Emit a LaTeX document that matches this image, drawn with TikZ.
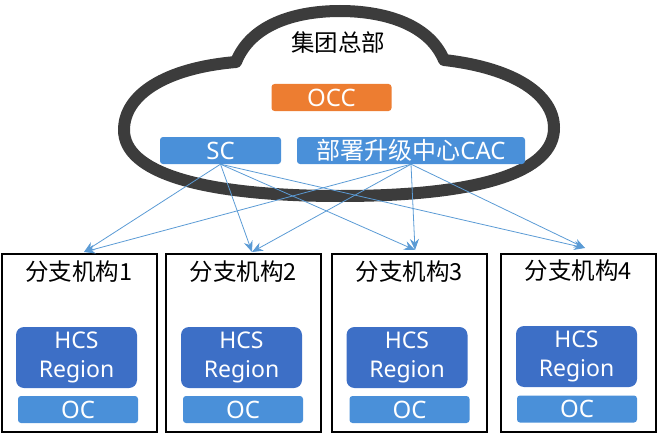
\documentclass[tikz,border=0pt]{standalone}
\usepackage{fontspec}
\setmainfont{Noto Sans}
\newfontfamily\cjk{Noto Sans CJK SC}
\usetikzlibrary{arrows.meta}
\definecolor{cloudgray}{HTML}{3C3C3C}
\definecolor{occorange}{HTML}{ED7D31}
\definecolor{lightblue}{HTML}{4A90D9}
\definecolor{darkblue}{HTML}{3D6FC6}
\definecolor{arrowblue}{HTML}{5B9BD5}
\begin{document}
\begin{tikzpicture}[x=1pt,y=-1pt,
  branch/.style={draw=black,line width=2pt,minimum width=155pt,minimum height=178pt,inner sep=0pt},
  title/.style={font=\cjk\fontsize{23.5}{25}\selectfont,inner sep=0pt},
  hcs/.style={fill=darkblue,rounded corners=8pt,minimum width=121pt,minimum height=61pt,inner sep=0pt,text=white,align=center,font=\fontsize{23}{29}\selectfont},
  ocbox/.style={fill=lightblue,rounded corners=3pt,minimum width=120pt,minimum height=27pt,inner sep=0pt,text=white,font=\fontsize{24}{24}\selectfont},
  topbox/.style={rounded corners=3pt,minimum height=27pt,inner sep=0pt,text=white,font=\fontsize{24}{24}\selectfont},
  link/.style={draw=arrowblue,line width=0.8pt,-{Stealth[length=11pt,width=9pt]}}]
\useasboundingbox (0,0) rectangle (659,436);
% cloud
\draw[cloudgray,line width=12pt,line join=round]
  (236,62) .. controls (252,22) and (300,11) .. (340,11)
  .. controls (380,11) and (428,22) .. (444,60)
  .. controls (515,68) and (554,95) .. (554,128)
  .. controls (554,172) and (480,196) .. (340,196)
  .. controls (200,196) and (124,172) .. (124,130)
  .. controls (124,95) and (165,68) .. (236,62) -- cycle;
\node[title,font=\cjk\fontsize{23.5}{25}\selectfont] (hq) at (338,43) {集团总部};
\node[topbox,fill=occorange,minimum width=120pt] (occ) at (331.5,97.5) {OCC};
\node[topbox,fill=lightblue,minimum width=121pt] (sc) at (220.5,150.5) {SC};
\node[topbox,fill=lightblue,minimum width=228pt] (cac) at (411,150.5) {{\cjk 部署升级中心}CAC};
% branches
\node[branch] (b1) at (79.5,343) {};
\node[branch] (b2) at (243.5,343) {};
\node[branch] (b3) at (409.5,343) {};
\node[branch] (b4) at (578.5,342.5) {};
\node[title] (t1) at (79,272) {分支机构1};
\node[title] (t2) at (243.5,272) {分支机构2};
\node[title] (t3) at (409.5,272) {分支机构3};
\node[title] (t4) at (578.5,271) {分支机构4};
\node[hcs] (h1) at (76.5,357.5) {HCS\\Region};
\node[hcs] (h2) at (241.5,357.5) {HCS\\Region};
\node[hcs] (h3) at (407,357.5) {HCS\\Region};
\node[hcs] (h4) at (576.5,356.5) {HCS\\Region};
\node[ocbox] (o1) at (78,409.5) {OC};
\node[ocbox] (o2) at (243,409.5) {OC};
\node[ocbox] (o3) at (409.5,409.5) {OC};
\node[ocbox] (o4) at (577,409) {OC};
% arrow targets
\coordinate (a1) at (84,252);
\coordinate (a2) at (252,252);
\coordinate (a3) at (415,250);
\coordinate (a4) at (585,248);
\foreach \t in {a1,a2,a3,a4}{
  \draw[link] (sc.south) -- (\t);
  \draw[link] (cac.south) -- (\t);
}
\end{tikzpicture}
\end{document}
